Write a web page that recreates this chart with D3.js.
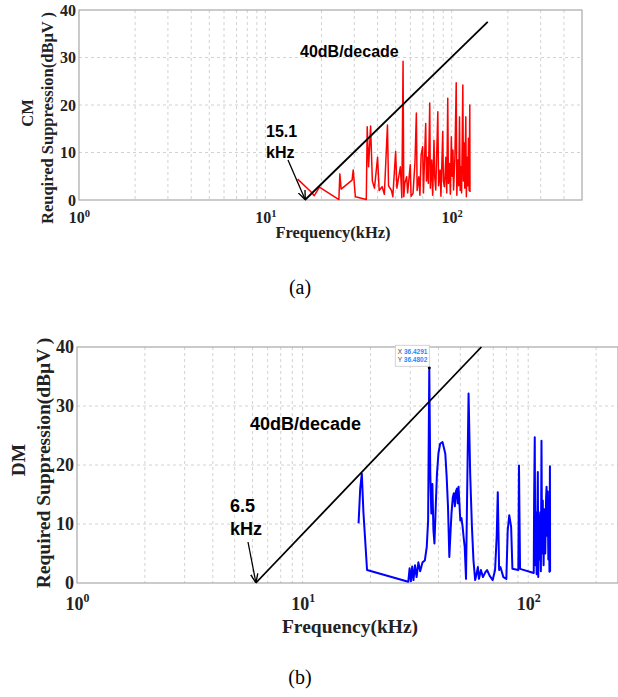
<!DOCTYPE html>
<html>
<head>
<meta charset="utf-8">
<script src="https://cdn.jsdelivr.net/npm/d3@7"></script>
<style>
  body { margin: 0; background: #fff; }
  .grid line { stroke: #d2d2d2; stroke-dasharray: 3,3; }
</style>
</head>
<body>
<div id="chart"></div>
<script>
// CM spectrum (a): frequency in kHz, required suppression in dBuV
var cmFreq = [14.9, 17.5, 18.3, 19.5, 24.8, 25.1, 25.5, 29.2, 29.6, 30.4, 34.8, 35.2, 35.8, 36.7, 37.5, 38.5,
    40.0, 40.8, 42.3, 43.5, 45.2, 45.8, 47.5, 48.3, 50.0, 50.8, 53.0, 54.0, 54.8, 55.3, 56.0, 57.3, 58.0,
    59.9, 60.5, 62.0, 63.5, 64.6, 65.2, 66.6, 67.5, 68.5, 69.8, 70.5, 72.5, 73.2, 74.0, 74.9, 76.2, 76.8,
    78.1, 79.0, 80.3, 81.0, 82.1, 84.2, 85.0, 86.6, 87.5, 89.5, 90.2, 91.4, 93.0, 94.0, 95.2, 96.0, 97.4,
    98.3, 99.5, 100.5, 101.5, 102.3, 104.0, 105.7, 106.5, 107.9, 109.0, 110.1, 111.0, 112.0, 113.0, 114.7,
    115.5, 116.5, 117.5, 119.0, 119.8, 121.0, 122.0, 123.0, 124.0, 125.0, 125.3];
var cmVal = [4.4, 1.8, 0.9, 2.7, 0.1, 5.5, 2.3, 4.2, 6.3, 0.7, 0.1, 15.4, 7.0, 15.6, 4.0, 2.5,
    9.0, 2.0, 2.8, 1.2, 15.8, 3.0, 2.0, 0.7, 10.2, 2.5, 7.0, 0.5, 29.2, 0.7, 3.5, 4.9, 1.5,
    7.4, 0.8, 1.4, 8.0, 18.3, 2.0, 4.9, 1.0, 9.5, 11.2, 1.5, 16.1, 4.0, 9.0, 3.5, 20.4, 2.5,
    8.4, 1.0, 12.6, 5.0, 2.1, 18.6, 3.0, 6.3, 0.8, 14.4, 4.0, 2.8, 9.0, 1.5, 21.4, 3.5, 7.7,
    1.2, 13.3, 5.0, 10.5, 2.1, 9.0, 24.7, 1.0, 8.4, 3.0, 17.5, 2.0, 7.0, 1.5, 24.2,
    4.0, 12.0, 2.5, 17.5, 0.7, 9.0, 3.0, 13.0, 2.0, 20.0, 1.7];

// DM spectrum (b)
var dmFreq = [17.7, 18.0, 18.3, 18.6, 18.9, 19.3, 29.4, 29.8, 30.2, 30.6, 31.0, 31.5, 32.0, 32.6, 33.2, 34.0,
    34.8, 35.5, 36.0, 36.4291, 36.8, 37.2, 37.6, 38.0, 38.4, 39.0, 39.4, 40.0, 40.7, 41.7, 42.9, 43.5, 44.1,
    44.7, 45.3, 45.7, 46.3, 46.8, 47.3, 47.8, 48.3, 48.7, 49.1, 50.0, 50.6, 51.2, 51.8, 52.3, 53.0, 53.6,
    54.4, 55.3, 56.3, 57.2, 58.2, 59.0, 59.8, 60.5, 61.7, 63.0, 64.5, 65.7, 67.5, 69.6, 71.3, 72.5, 73.3,
    74.3, 75.3, 77.6, 80.0, 81.1, 82.4, 84.0, 85.1, 90.4, 91.0, 92.0, 105.8, 106.2, 106.9, 107.5, 108.3,
    109.0, 110.3, 110.8, 111.5, 112.3, 113.0, 113.8, 114.5, 115.2, 116.0, 117.0, 118.0, 119.0, 120.0,
    120.6, 121.3, 122.0, 122.8, 123.5, 124.2, 124.8, 125.0];
var dmVal = [10.1, 16.0, 18.5, 12.0, 7.8, 2.2, 0.2, 2.5, 0.3, 2.8, 0.5, 3.0, 1.0, 3.5, 2.0, 3.5,
    3.8, 6.1, 10.6, 36.4802, 18.6, 11.8, 16.8, 9.0, 6.7, 14.0, 18.5, 22.0, 23.6, 23.9, 21.9, 18.0, 12.9,
    4.4, 9.0, 11.8, 14.5, 15.2, 13.0, 15.5, 16.0, 13.5, 16.3, 10.6, 11.0, 9.5, 7.5, 6.1, 0.7, 15.0,
    32.1, 18.5, 9.5, 3.8, 0.5, 1.5, 2.7, 0.7, 2.2, 1.0, 1.8, 2.2, 1.2, 0.5, 2.2, 8.0, 15.4,
    2.2, 2.7, 1.0, 0.7, 8.9, 11.5, 9.5, 2.4, 2.2, 19.9, 2.4, 1.7, 14.0, 24.7, 3.0, 12.0,
    1.5, 18.8, 1.0, 11.5, 4.0, 12.0, 2.0, 24.1, 5.0, 14.0, 3.0, 12.5, 5.0, 14.5,
    16.3, 8.0, 15.5, 4.0, 12.0, 1.9, 19.8, 1.9];

// 40 dB/decade reference lines
var cmSlopeFreq = [16.3, 156], cmSlopeVal = [0, 37.5];
var dmSlopeFreq = [6.2, 62], dmSlopeVal = [0, 40];

var yTicks = [0, 10, 20, 30, 40];
var xMajor = [1, 10, 100];
var peakTip = {x: 36.4291, y: 36.4802};

var svg = d3.select("#chart").append("svg")
    .attr("width", 618)
    .attr("height", 697);

var defs = svg.append("defs");
defs.append("marker")
    .attr("id", "arrow")
    .attr("viewBox", "0 0 10 10")
    .attr("refX", 9).attr("refY", 5)
    .attr("markerWidth", 7).attr("markerHeight", 7)
    .attr("orient", "auto")
  .append("path")
    .attr("d", "M0,1 L10,5 L0,9")
    .attr("fill", "none")
    .attr("stroke", "#000")
    .attr("stroke-width", 1.5);

function panel(p) {
    var g = svg.append("g");
    var x = d3.scaleLog().domain([1, p.xMax]).range([p.left, p.right]);
    var y = d3.scaleLinear().domain([0, 40]).range([p.bottom, p.top]);

    // minor + major vertical grid
    var gridX = [];
    for (var dec = 1; dec <= 100; dec *= 10)
        for (var k = 1; k < 10; k++)
            if (dec * k > 1 && dec * k < p.xMax) gridX.push(dec * k);

    var grid = g.append("g").attr("class", "grid");
    grid.selectAll(".vx").data(gridX).enter().append("line")
        .attr("x1", d => x(d)).attr("x2", d => x(d))
        .attr("y1", p.top).attr("y2", p.bottom);
    grid.selectAll(".hy").data(yTicks.slice(1, -1)).enter().append("line")
        .attr("x1", p.left).attr("x2", p.right)
        .attr("y1", d => y(d)).attr("y2", d => y(d));

    g.append("rect")
        .attr("x", p.left).attr("y", p.top)
        .attr("width", p.right - p.left).attr("height", p.bottom - p.top)
        .attr("fill", "none").attr("stroke", "#a8a8a8").attr("stroke-width", 1.2);

    // axes
    var xAxis = g.append("g")
        .attr("transform", "translate(0," + p.bottom + ")")
        .call(d3.axisBottom(x).tickValues(xMajor).tickSize(0).tickPadding(p.xPad));
    xAxis.select(".domain").remove();
    xAxis.selectAll(".tick text")
        .style("font", "bold " + p.tickSize + "px 'Liberation Serif'")
        .attr("fill", "#222")
        .text("10")
        .append("tspan")
        .attr("dy", -p.tickSize * 0.42)
        .style("font-size", (p.tickSize * 0.66) + "px")
        .text(d => Math.round(Math.log10(d)));

    var yAxis = g.append("g")
        .attr("transform", "translate(" + p.left + ",0)")
        .call(d3.axisLeft(y).tickValues(yTicks).tickSize(0).tickPadding(3));
    yAxis.select(".domain").remove();
    yAxis.selectAll(".tick text")
        .style("font", "bold " + p.tickSize + "px 'Liberation Serif'")
        .attr("fill", "#222");

    // labels
    g.append("text")
        .attr("transform", "translate(" + p.lab1X + "," + p.lab1Y + ") rotate(-90)")
        .attr("text-anchor", "middle")
        .style("font", "bold " + p.labSize + "px 'Liberation Serif'")
        .attr("fill", "#222")
        .text(p.name);
    g.append("text")
        .attr("transform", "translate(" + p.lab2X + "," + p.lab2Y + ") rotate(-90)")
        .attr("text-anchor", "middle")
        .style("font", "bold " + p.labSize + "px 'Liberation Serif'")
        .attr("fill", "#222")
        .text(p.ylabel);
    g.append("text")
        .attr("x", p.xlabX).attr("y", p.xlabY)
        .attr("text-anchor", "middle")
        .style("font", "bold " + p.labSize + "px 'Liberation Serif'")
        .attr("fill", "#222")
        .text("Frequency(kHz)");

    var line = d3.line().x(d => x(d[0])).y(d => y(d[1]));

    g.append("path")
        .datum(d3.zip(p.freq, p.val))
        .attr("d", line)
        .attr("fill", "none")
        .attr("stroke", p.color)
        .attr("stroke-width", p.lw)
        .attr("stroke-linejoin", "round");

    g.append("path")
        .datum(d3.zip(p.sFreq, p.sVal))
        .attr("d", line)
        .attr("fill", "none")
        .attr("stroke", "#000")
        .attr("stroke-width", 1.8);

    // annotations
    var af = "bold " + p.annSize + "px 'Liberation Sans'";
    g.append("text").attr("x", p.slopeX).attr("y", p.slopeY)
        .style("font", af).text("40dB/decade");
    g.append("text").attr("x", p.kX).attr("y", p.kY)
        .style("font", af).text(p.kLabel);
    g.append("text").attr("x", p.kX).attr("y", p.kY + p.annSize * 1.3)
        .style("font", af).text("kHz");
    g.append("line")
        .attr("x1", p.arrX).attr("y1", p.arrY)
        .attr("x2", x(p.sFreq[0])).attr("y2", y(0) - 1)
        .attr("stroke", "#000").attr("stroke-width", 1.3)
        .attr("marker-end", "url(#arrow)");

    g.append("text")
        .attr("x", p.capX).attr("y", p.capY)
        .attr("text-anchor", "middle")
        .style("font", "20px 'Liberation Serif'")
        .text(p.caption);

    return {g: g, x: x, y: y};
}

panel({
    name: "CM", ylabel: "Reuqired Suppression(dBμV )", caption: "(a)",
    left: 79, right: 582, top: 10, bottom: 200, xMax: 500,
    freq: cmFreq, val: cmVal, color: "#ff0000", lw: 1.5,
    sFreq: cmSlopeFreq, sVal: cmSlopeVal,
    tickSize: 16, labSize: 16.5, annSize: 16, xPad: 12,
    lab1X: 33, lab1Y: 113, lab2X: 53, lab2Y: 118, xlabX: 333, xlabY: 238,
    slopeX: 300, slopeY: 57, kX: 266, kY: 137, kLabel: "15.1", arrX: 288, arrY: 160,
    capX: 300, capY: 294
});

var b = panel({
    name: "DM", ylabel: "Required Suppression(dBμV )", caption: "(b)",
    left: 77, right: 618, top: 347, bottom: 583, xMax: 250,
    freq: dmFreq, val: dmVal, color: "#0000ff", lw: 2,
    sFreq: dmSlopeFreq, sVal: dmSlopeVal,
    tickSize: 18, labSize: 19.5, annSize: 18, xPad: 14,
    lab1X: 25, lab1Y: 460, lab2X: 50, lab2Y: 463, xlabX: 350, xlabY: 633,
    slopeX: 250, slopeY: 430, kX: 230, kY: 512, kLabel: "6.5", arrX: 248, arrY: 542,
    capX: 300, capY: 684
});

// data tip on the DM peak
var tx = b.x(peakTip.x), ty = b.y(peakTip.y);
b.g.append("circle").attr("cx", tx).attr("cy", ty).attr("r", 1.5).attr("fill", "#000");
var tip = b.g.append("g").attr("transform", "translate(" + (tx - 34) + "," + (ty - 22.5) + ")");
tip.append("rect").attr("width", 34).attr("height", 21)
    .attr("fill", "#fff").attr("stroke", "#c8c8c8").attr("stroke-width", 0.8);
[["X ", peakTip.x.toFixed(4), 8.5], ["Y ", peakTip.y.toFixed(4), 16.5]].forEach(function(r) {
    var t = tip.append("text").attr("x", 2.5).attr("y", r[2])
        .style("font", "6.5px 'Liberation Sans'").attr("fill", "#444").text(r[0]);
    t.append("tspan").attr("fill", "#1a8cff").style("font-weight", "bold").text(r[1]);
});
</script>
</body>
</html>
